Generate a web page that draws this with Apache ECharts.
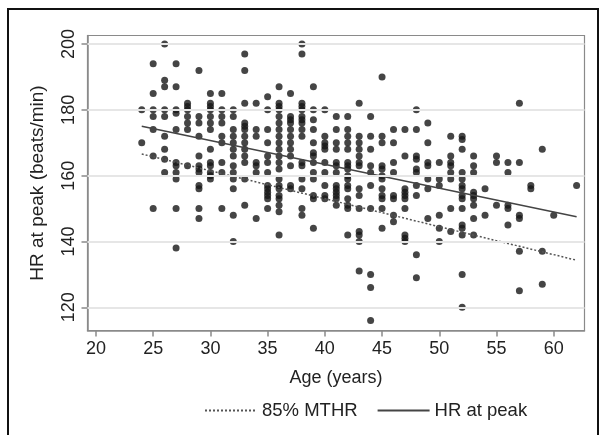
<!DOCTYPE html>
<html>
<head>
<meta charset="utf-8">
<script src="https://cdn.jsdelivr.net/npm/echarts@6/dist/echarts.min.js"></script>
<style>
  html, body { margin: 0; padding: 0; background: #fff; }
  #chart { width: 603px; height: 435px; }
</style>
</head>
<body>
<div id="chart"></div>
<script>
// ages (x) and the HR at peak readings at each age
var ages = [24, 25, 26, 27, 28, 29, 30, 31, 32, 33, 34, 35, 36, 37, 38, 39, 40, 41, 42, 43,
            44, 45, 46, 47, 48, 49, 50, 51, 52, 53, 54, 55, 56, 57, 58, 59, 60, 62];
var hrByAge = [
    [180, 170],
    [194, 185, 180, 178, 174, 166, 150],
    [200, 189, 187, 180, 178, 172, 168, 165, 161],
    [194, 187, 180, 179, 174, 164, 163, 161, 159, 150, 138],
    [182, 181, 180, 178, 176, 174, 163],
    [192, 178, 176, 172, 166, 163, 162, 161, 157, 156, 150, 147],
    [185, 182, 181, 180, 178, 176, 174, 168, 164, 163, 161, 160, 159],
    [185, 180, 178, 176, 172, 170, 164, 161, 150],
    [180, 178, 174, 172, 170, 168, 166, 163, 161, 159, 156, 148, 140],
    [197, 192, 182, 176, 175, 174, 172, 170, 168, 166, 164, 159, 151],
    [182, 174, 172, 164, 163, 161, 147],
    [184, 180, 174, 170, 166, 164, 161, 157, 156, 155, 154, 153, 150],
    [187, 182, 181, 180, 178, 176, 174, 172, 170, 168, 166, 164, 162, 159, 157, 156, 154, 153, 151, 149, 142],
    [185, 178, 177, 176, 174, 172, 170, 168, 166, 163, 157, 156],
    [200, 197, 182, 181, 180, 178, 177, 176, 174, 172, 164, 163, 159, 156, 150, 148],
    [187, 180, 177, 174, 170, 167, 166, 164, 161, 159, 154, 153, 144],
    [180, 172, 170, 169, 168, 164, 161, 157, 154, 153],
    [178, 174, 170, 168, 164, 163, 161, 157, 156, 155, 154, 153, 151],
    [178, 174, 172, 170, 168, 164, 163, 162, 160, 159, 157, 156, 153, 151, 150, 142],
    [182, 172, 170, 168, 166, 164, 163, 156, 154, 150, 143, 142, 140, 131],
    [178, 172, 168, 163, 161, 157, 150, 130, 126, 116],
    [190, 172, 170, 163, 162, 160, 159, 156, 154, 153, 150, 144],
    [174, 170, 164, 161, 154, 153, 148, 146],
    [174, 166, 156, 155, 154, 153, 150, 142, 141, 140],
    [180, 174, 166, 165, 162, 161, 157, 154, 136, 129],
    [176, 170, 164, 163, 159, 156, 147],
    [164, 159, 157, 148, 144, 140],
    [172, 166, 164, 163, 161, 159, 150, 143],
    [172, 171, 168, 161, 159, 157, 156, 154, 153, 150, 145, 144, 142, 130, 120],
    [166, 163, 161, 155, 154, 153, 151, 147, 142],
    [156, 148],
    [166, 164, 151],
    [164, 161, 151, 150, 145],
    [182, 164, 148, 147, 137, 125],
    [157, 156],
    [168, 137, 127],
    [148],
    [157]
];

// fitted lines, end points
var peakLine = [[24, 175], [62, 147.5]];
var mthrLine = [[24, 166.6], [62, 134.3]];

var xTicks = [20, 25, 30, 35, 40, 45, 50, 55, 60];
var yTicks = [120, 140, 160, 180, 200];

var points = [];
ages.forEach(function (age, i) {
    hrByAge[i].forEach(function (hr) {
        points.push([age, hr]);
    });
});

var chart = echarts.init(document.getElementById('chart'));
var font = 'Liberation Sans, Arial, sans-serif';

chart.setOption({
    backgroundColor: '#fff',
    animation: false,
    graphic: [{
        type: 'rect',
        shape: { x: 8, y: 9, width: 590, height: 460 },
        style: { fill: 'none', stroke: '#111', lineWidth: 2 },
        silent: true
    }],
    grid: {
        left: 87.5, right: 18.5, top: 35.5, bottom: 104.5,
        show: true, borderColor: '#8a8a8a', borderWidth: 1.2
    },
    legend: {
        data: ['85% MTHR', 'HR at peak'],
        top: 396,
        left: 199,
        itemWidth: 52,
        itemHeight: 10,
        itemGap: 19,
        itemStyle: { opacity: 0 },
        textStyle: { fontFamily: font, fontSize: 18.5, color: '#222' }
    },
    xAxis: {
        type: 'value',
        min: 19.26,
        max: 62.69,
        name: 'Age (years)',
        nameLocation: 'middle',
        nameGap: 39,
        nameTextStyle: { fontFamily: font, fontSize: 18, color: '#222' },
        axisLine: { show: true, lineStyle: { color: '#8a8a8a', width: 1.5 } },
        axisTick: { show: true, customValues: xTicks, length: 6, lineStyle: { color: '#8a8a8a', width: 1.5 } },
        axisLabel: { customValues: xTicks, margin: 10, fontFamily: font, fontSize: 18, color: '#222' },
        splitLine: { show: false }
    },
    yAxis: {
        type: 'value',
        min: 112.95,
        max: 202.6,
        name: 'HR at peak (beats/min)',
        nameLocation: 'middle',
        nameGap: 40,
        nameTextStyle: { fontFamily: font, fontSize: 19, color: '#222' },
        axisLine: { show: true, lineStyle: { color: '#8a8a8a', width: 1.5 } },
        axisTick: { show: true, customValues: yTicks, length: 6, lineStyle: { color: '#8a8a8a', width: 1.5 } },
        axisLabel: { customValues: yTicks, rotate: 90, margin: 9, fontFamily: font, fontSize: 18, color: '#222' },
        splitLine: { show: false }
    },
    series: [{
        name: 'gridlines',
        type: 'line',
        data: [],
        silent: true,
        markLine: {
            silent: true,
            symbol: 'none',
            label: { show: false },
            lineStyle: { color: '#e6e6e6', width: 2, type: 'solid' },
            data: yTicks.map(function (v) { return { yAxis: v }; })
        }
    }, {
        name: 'points',
        type: 'scatter',
        data: points,
        symbolSize: 7,
        itemStyle: { color: '#161616' },
        z: 3
    }, {
        name: '85% MTHR',
        type: 'line',
        data: mthrLine,
        symbol: 'none',
        lineStyle: { color: '#555', width: 1.5, type: [2, 2] },
        itemStyle: { color: '#555' },
        z: 4
    }, {
        name: 'HR at peak',
        type: 'line',
        data: peakLine,
        symbol: 'none',
        lineStyle: { color: '#444', width: 1.6 },
        itemStyle: { color: '#444' },
        z: 4
    }]
});
</script>
</body>
</html>
